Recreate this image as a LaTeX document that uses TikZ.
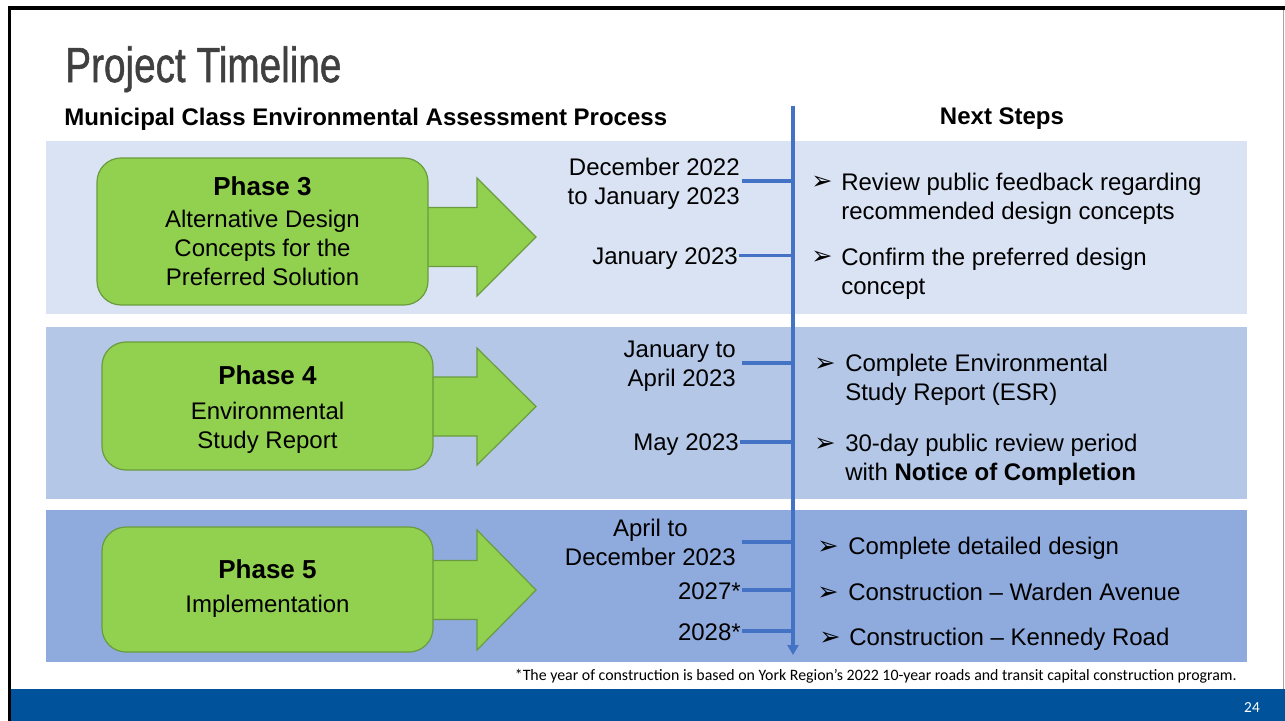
\documentclass[tikz,border=0pt]{standalone}
\usepackage{fontspec}
\setmainfont{Liberation Sans}
\newfontfamily\dingfont{DejaVu Sans}
\newfontfamily\calfont{Carlito}
\newfontfamily\titlefont[FakeBold=1.2]{Liberation Sans}
\usetikzlibrary{arrows.meta,calc}
\definecolor{bandA}{HTML}{DAE3F3}
\definecolor{bandB}{HTML}{B4C7E7}
\definecolor{bandC}{HTML}{8FAADC}
\definecolor{grfill}{HTML}{92D050}
\definecolor{grline}{HTML}{6A9C3F}
\definecolor{tlblue}{HTML}{4472C4}
\definecolor{barblue}{HTML}{00539B}
\definecolor{titlegray}{HTML}{404040}
\newcommand\phasefnt{\fontsize{19.5}{24}\selectfont\bfseries}
\begin{document}
\begin{tikzpicture}[x=0.75pt,y=-0.75pt,
  phasebox/.style={draw=grline, fill=grfill, line width=0.9pt, rounded corners=18pt,
    minimum width=248.25pt, inner sep=0},
  phaselabel/.style={align=center, inner sep=0, font=\fontsize{18}{21.75}\selectfont},
  bigarrow/.style={draw=grline, fill=grfill, line width=0.9pt, line join=miter},
  datetxt/.style={inner sep=0, anchor=east, align=right, font=\fontsize{18}{21.75}\selectfont},
  steptxt/.style={inner sep=0, anchor=west, align=left, font=\fontsize{18}{21.75}\selectfont},
  bulletmark/.style={inner sep=0, anchor=west, font=\dingfont\fontsize{19}{20}\selectfont},
  tick/.style={draw=tlblue, line width=2.5pt},
  spine/.style={draw=tlblue, line width=2.6pt},
  headtxt/.style={inner sep=0, font=\fontsize{18}{21.75}\selectfont\bfseries},
]
\useasboundingbox (0,0) rectangle (1285,721);
\fill[white] (0,0) rectangle (1285,721);
% frame
\fill[black] (8,6) rectangle (1285,10);
\fill[black] (8,6) rectangle (11,721);
\draw[black!35, line width=0.75pt] (1283,10) -- (1283,689);
% bottom bar
\fill[barblue] (11,689) rectangle (1285,721);
\node[inner sep=0, text=white, font=\calfont\fontsize{11.5}{13}\selectfont] (pg) at (1252,708) {24};
% title
\node[inner sep=0, anchor=base west, text=titlegray, font=\titlefont\fontsize{37}{40}\selectfont] (title) at (65,82) {\scalebox{0.785}[1]{Project Timeline}};
\node[headtxt, anchor=west] (sub) at (64,119) {Municipal Class Environmental Assessment Process};
\node[headtxt] (next) at (1002,118.5) {Next Steps};
% bands
\fill[bandA] (46,141) rectangle (1247,314);
\fill[bandB] (46,327) rectangle (1247,499);
\fill[bandC] (46,510) rectangle (1247,662);
% arrows
\draw[bigarrow] (410,207.5) -- (477,207.5) -- (477,178) -- (536,237) -- (477,296) -- (477,266.5) -- (410,266.5) -- cycle;
\draw[bigarrow] (410,377) -- (477,377) -- (477,348) -- (536,406.5) -- (477,465) -- (477,436) -- (410,436) -- cycle;
\draw[bigarrow] (410,560.5) -- (477,560.5) -- (477,530) -- (536,590) -- (477,650) -- (477,619.5) -- (410,619.5) -- cycle;
% phase boxes
\node[phasebox, minimum height=110.25pt] (p3) at (262.5,231.5) {};
\node[phaselabel] (l3) at (262.5,231.5)
  {{\phasefnt Phase 3}\\[2.5pt] Alternative Design\\Concepts for the\\Preferred Solution};
\node[phasebox, minimum height=96pt] (p4) at (267.5,406) {};
\node[phaselabel] (l4) at (267.5,409.5)
  {{\phasefnt Phase 4}\\[4pt] Environmental\\Study Report};
\node[phasebox, minimum height=93.75pt] (p5) at (267.5,589.5) {};
\node[phaselabel] (l5) at (267.5,588.5)
  {{\phasefnt Phase 5}\\[4pt] Implementation};
% spine
\coordinate (sp1) at (793,106);
\coordinate (sp2) at (793,655);
\draw[spine, -{Triangle[width=8.25pt,length=7.5pt]}] (sp1) -- (sp2);
\coordinate (t1) at (793,181);
\coordinate (t2) at (793,255.5);
\coordinate (t3) at (793,363);
\coordinate (t4) at (793,442);
\coordinate (t5) at (793,542);
\coordinate (t6) at (793,590);
\coordinate (t7) at (793,631);
% dates
\node[datetxt] (d1) at (740,183.5) {December 2022\\to January 2023};
\node[datetxt] (d2) at (738,259) {January 2023};
\node[datetxt] (d3) at (736,366) {January to\\April 2023};
\node[datetxt] (d4) at (739,445) {May 2023};
\node[datetxt, align=center] (d5) at (736,542.5) {April to\\December 2023};
\node[datetxt] (d6) at (741,591) {2027*};
\node[datetxt] (d7) at (741,632) {2028*};
\draw[tick] (d1.east |- t1) ++(2,0) -- (t1);
\draw[tick] (d2.east |- t2) ++(1,0) -- (t2);
\draw[tick] (d3.east |- t3) ++(6,0) -- (t3);
\draw[tick] (d4.east |- t4) ++(1,0) -- (t4);
\draw[tick] (d5.east |- t5) ++(6,0) -- (t5);
\draw[tick] (d6.east |- t6) ++(1,0) -- (t6);
\draw[tick] (d7.east |- t7) ++(1,0) -- (t7);
% steps
\node[bulletmark] (m1) at (811,182.5) {➢};
\node[steptxt] (s1) at (841,199) {Review public feedback regarding\\recommended design concepts};
\node[bulletmark] (m2) at (811,257.5) {➢};
\node[steptxt] (s2) at (841,273.5) {Confirm the preferred design\\concept};
\node[bulletmark] (m3) at (814,364.5) {➢};
\node[steptxt] (s3) at (845,380) {Complete Environmental\\Study Report (ESR)};
\node[bulletmark] (m4) at (814,444.5) {➢};
\node[steptxt] (s4) at (845,459.5) {30-day public review period\\with \textbf{Notice of Completion}};
\node[bulletmark] (m5) at (817,547.5) {➢};
\node[steptxt] (s5) at (848,548) {Complete detailed design};
\node[bulletmark] (m6) at (817,593.5) {➢};
\node[steptxt] (s6) at (848,592) {Construction – Warden Avenue};
\node[bulletmark] (m7) at (819,638.5) {➢};
\node[steptxt] (s7) at (849,639) {Construction – Kennedy Road};
% footnote
\node[inner sep=0, anchor=east, font=\calfont\fontsize{11.9}{13}\selectfont] (fn) at (1237,676)
  {*The year of construction is based on York Region’s 2022 10-year roads and transit capital construction program.};
\end{tikzpicture}
\end{document}
